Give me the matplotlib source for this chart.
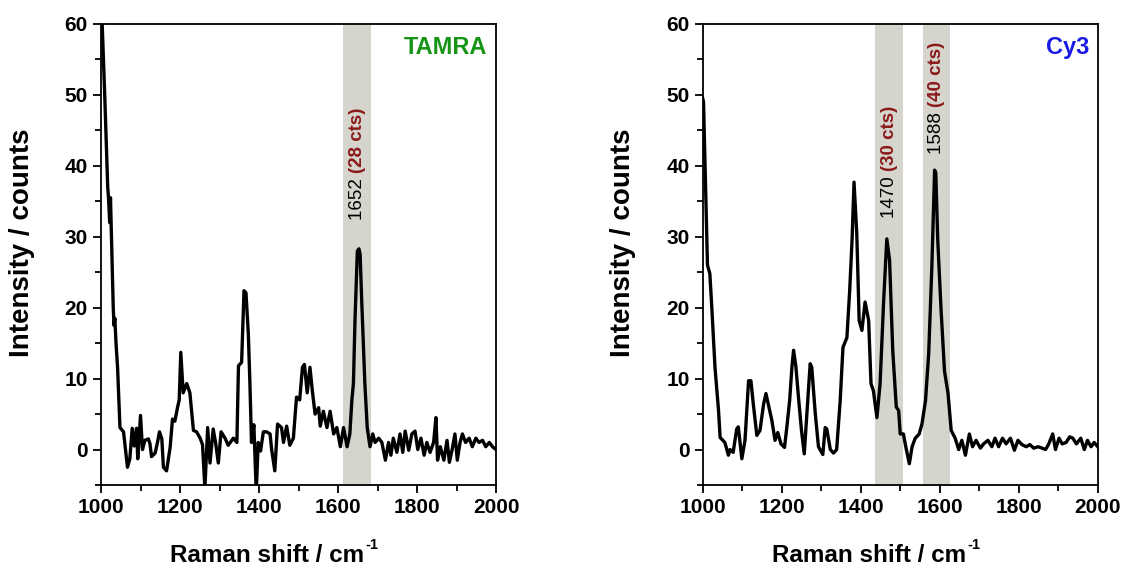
import numpy as np
import matplotlib
matplotlib.use("Agg")
import matplotlib.pyplot as plt
from matplotlib.ticker import MultipleLocator

plt.rcParams['font.family'] = ['Liberation Sans', 'DejaVu Sans']

# TAMRA spectrum
tamra_x = [1000, 1003, 1010, 1017, 1019, 1022, 1024, 1027, 1031, 1033, 1035, 1038, 1042,
           1048, 1057, 1067, 1073, 1079, 1084, 1090, 1093, 1100, 1105, 1111, 1120, 1124,
           1128, 1137, 1143, 1148, 1154, 1158, 1166, 1175, 1181, 1187, 1194, 1198, 1202,
           1208, 1217, 1225, 1234, 1242, 1251, 1257, 1263, 1270, 1276, 1284, 1290, 1297,
           1304, 1314, 1322, 1335, 1344, 1348, 1356, 1362, 1367, 1373, 1377, 1381, 1387,
           1393, 1398, 1404, 1411, 1419, 1428, 1432, 1440, 1447, 1457, 1462, 1470, 1478,
           1487, 1495, 1503, 1510, 1515, 1522, 1529, 1535, 1542, 1551, 1555, 1563, 1572,
           1580, 1589, 1597, 1606, 1614, 1623, 1630, 1635, 1639, 1643, 1649, 1653, 1656,
           1660, 1668, 1674, 1681, 1688, 1694, 1703, 1711, 1720, 1728, 1734, 1740, 1749,
           1757, 1764, 1770, 1779, 1787, 1795, 1802, 1810, 1818, 1825, 1833, 1842, 1848,
           1852, 1859, 1868, 1876, 1882, 1889, 1896, 1902, 1909, 1915, 1923, 1932, 1940,
           1949, 1957, 1966, 1974, 1983, 1991, 2000]
tamra_y = [63, 60, 49, 37, 35.5, 32, 35.5, 29, 20, 17.5, 18.5, 15, 11.5,
           3.1, 2.5, -2.5, -1.3, 3, 0.5, 3, -1.3, 4.8, 0, 1.3, 1.5, 0.8,
           -1, -0.5, 1, 2.5, 1.5, -2.5, -3, 0.3, 4.3, 4, 6, 7, 13.7,
           8, 9.3, 8, 2.7, 2.5, 1.6, 0.7, -5.5, 3.1, -1.9, 2.9, 1, -1.9,
           2.5, 1.6, 0.6, 1.6, 1, 11.8, 12.3, 22.4, 22.1, 16.3, 9.3, 1, 3.5,
           -6, 1, -0.2, 2.5, 2.5, 2.2, 0, -3, 3.6, 3.1, 1, 3.3, 0.6,
           1.6, 7.4, 7, 11.6, 12, 8, 11.6, 8.3, 5, 5.9, 3.3, 5.4, 3.1,
           5.4, 2.2, 3.1, 0.4, 3.1, 0.4, 2.2, 6.9, 9.3, 18.2, 28, 28.3, 27.5,
           21, 9.3, 3.1, 0.4, 2.2, 1, 1.6, 1, -1.5, 1, -0.8, 1.6, -0.4,
           2.2, -0.4, 2.6, -0.1, 2.2, 2.6, 0, 1.6, -0.8, 1, -0.4, 1, 4.5,
           -1.5, 0.4, -1.5, 1.3, -1.8, 0, 2.2, -1.5, 1, 2.2, 1, 1.6, 0.4,
           1.6, 1, 1.3, 0.4, 1, 0.4, 0]

# Cy3 spectrum
cy3_x = [1000, 1002, 1006, 1012, 1018, 1023, 1031, 1040, 1044, 1056, 1065, 1069, 1077,
         1086, 1090, 1099, 1107, 1116, 1122, 1128, 1137, 1145, 1154, 1160, 1166, 1175,
         1183, 1190, 1198, 1207, 1213, 1220, 1226, 1230, 1236, 1242, 1250, 1257, 1264,
         1272, 1276, 1285, 1293, 1304, 1310, 1314, 1323, 1331, 1339, 1348, 1355, 1365,
         1372, 1378, 1383, 1390, 1396, 1403, 1411, 1420, 1426, 1432, 1441, 1449, 1458,
         1466, 1473, 1481, 1490, 1496, 1500, 1508, 1514, 1523, 1530, 1538, 1548, 1555,
         1564, 1572, 1580, 1587, 1590, 1595, 1603, 1612, 1621, 1629, 1639, 1648, 1656,
         1665, 1675, 1683, 1692, 1703, 1711, 1722, 1732, 1740, 1749, 1759, 1768, 1779,
         1789, 1798, 1808, 1819, 1828, 1838, 1849, 1859, 1868, 1876, 1886, 1893, 1902,
         1910, 1920, 1929, 1937, 1946, 1957, 1966, 1974, 1983, 1991, 2000]
cy3_y = [49.5, 49, 40, 26, 24.8, 20, 11.6, 5.5, 1.7, 1, -0.8, 0, -0.4,
         2.9, 3.2, -1.3, 1.3, 9.7, 9.7, 6.4, 2, 2.7, 6.4, 7.9, 6.4, 4.1,
         1.3, 2.4, 0.8, 0.3, 3.2, 6.9, 11.8, 14, 11.6, 7.6, 2.7, -0.6, 5.4,
         12.1, 11.6, 5, 0.4, -0.7, 3.1, 2.9, 0, -0.5, 0, 6.9, 14.4, 15.8,
         22.4, 29.5, 37.7, 30.4, 18.2, 16.8, 20.8, 18.2, 9.3, 8.3, 4.5, 9.3, 21,
         29.7, 26.7, 14, 6, 5.5, 2.2, 2.2, 0.4, -2, 0.4, 1.6, 2.2, 3.6,
         6.9, 13.5, 25.7, 39.4, 39, 29.5, 20.1, 11.1, 7.9, 2.7, 1.6, 0, 1.3,
         -0.8, 2.2, 0.4, 1.3, 0.2, 0.8, 1.3, 0.4, 1.6, 0.4, 1.6, 0.8, 1.6,
         -0.1, 1.3, 0.7, 0.4, 0.7, 0.2, 0.4, 0.2, 0, 0.8, 2.2, 0, 1.6,
         0.8, 1, 1.8, 1.6, 0.8, 1.6, 0, 1.3, 0.4, 1, 0.4]

# shaded bands (Raman shift ranges)
tamra_bands = [(1613, 1683)]
cy3_bands = [(1437, 1506), (1557, 1625)]

# peak annotations: position, label, counts, text baseline
tamra_peaks = [(1649, "1652", "(28 cts)", 32.3)]
cy3_peaks = [(1473, "1470", "(30 cts)", 32.7), (1592, "1588", "(40 cts)", 41.7)]

band_color = "#d5d5cd"
cts_color = "#8b1a1a"

fig = plt.figure(figsize=(11.26, 5.70), dpi=100)
ax1 = fig.add_axes([0.0897, 0.1491, 0.3508, 0.8088])
ax2 = fig.add_axes([0.6241, 0.1491, 0.3508, 0.8088])


def draw_panel(ax, x, y, bands, peaks, name, name_color):
    for lo, hi in bands:
        ax.axvspan(lo, hi, color=band_color, lw=0, zorder=0)
    ax.plot(x, y, color="k", lw=2.4, zorder=3)
    for px, num, cts, yb in peaks:
        t = ax.text(px, yb, num + " ", rotation=90, ha="center", va="bottom",
                    fontsize=13.5, color="k", zorder=4)
        ax.annotate(cts, xy=(0.5, 1.0), xycoords=t, rotation=90, ha="center",
                    va="bottom", fontsize=13.5, fontweight="bold", color=cts_color,
                    zorder=4)
    ax.text(0.978, 0.974, name, transform=ax.transAxes, ha="right", va="top",
            fontsize=17, fontweight="bold", color=name_color)

    ax.set_xlim(1000, 2000)
    ax.set_ylim(-5, 60)
    ax.xaxis.set_major_locator(MultipleLocator(200))
    ax.xaxis.set_minor_locator(MultipleLocator(100))
    ax.yaxis.set_major_locator(MultipleLocator(10))
    ax.yaxis.set_minor_locator(MultipleLocator(5))
    ax.tick_params(which="both", direction="out", top=False, right=False,
                   width=1.3, labelsize=15)
    ax.tick_params(which="major", length=6)
    ax.tick_params(which="minor", length=4)
    for lbl in ax.get_xticklabels() + ax.get_yticklabels():
        lbl.set_fontweight("bold")
    for s in ax.spines.values():
        s.set_linewidth(1.3)

    xl = ax.set_xlabel("Raman shift / cm", fontsize=17.5, fontweight="bold")
    ax.xaxis.set_label_coords(0.42, -0.129)
    ax.annotate("-1", xy=(1.0, 1.0), xycoords=xl, xytext=(1, 5),
                textcoords="offset points", ha="left", va="top",
                fontsize=10.5, fontweight="bold")
    ax.set_ylabel("Intensity / counts", fontsize=20, fontweight="bold")
    ax.yaxis.set_label_coords(-0.168, 0.526)


draw_panel(ax1, tamra_x, tamra_y, tamra_bands, tamra_peaks, "TAMRA", "#159415")
draw_panel(ax2, cy3_x, cy3_y, cy3_bands, cy3_peaks, "Cy3", "#1a1ae6")

fig.savefig("out.png", dpi=100)
